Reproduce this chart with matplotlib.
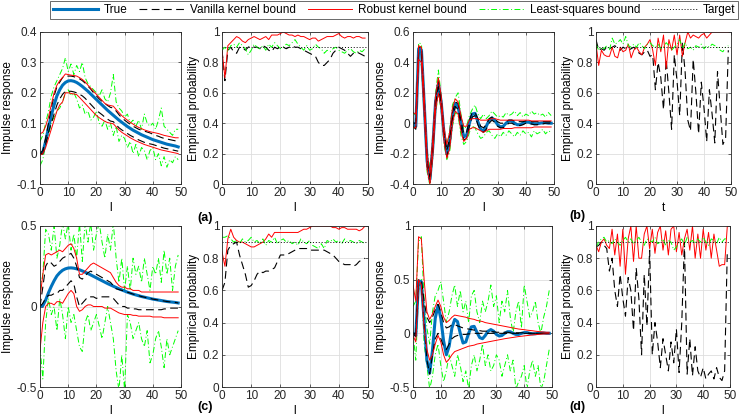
import matplotlib
matplotlib.use('Agg')
import matplotlib.pyplot as plt
from matplotlib.lines import Line2D
from matplotlib.ticker import FormatStrFormatter

plt.rcParams['font.family'] = ['Liberation Sans', 'DejaVu Sans']
plt.rcParams['font.size'] = 8

# lags 0..49
lags = list(range(50))

# ---- true impulse responses ----
true_peak = [0, 0.005, 0.04, 0.085, 0.125, 0.16, 0.19, 0.21, 0.225, 0.234, 0.239, 0.24, 0.238, 0.234, 0.228, 0.221, 0.213,
             0.205, 0.196, 0.187, 0.178, 0.169, 0.16, 0.151, 0.142, 0.134, 0.126, 0.118, 0.11, 0.103, 0.096, 0.089, 0.083,
             0.077, 0.072, 0.067, 0.062, 0.058, 0.054, 0.05, 0.046, 0.043, 0.04, 0.037, 0.034, 0.031, 0.029, 0.027, 0.025, 0.022]
true_osc = [0.0, -0.02, 0.49, 0.48, 0.12, -0.25, -0.37, -0.16, 0.14, 0.26, 0.14, -0.07, -0.2, -0.12, 0.05, 0.13, 0.11, 0.0,
            -0.09, -0.08, 0.0, 0.06, 0.065, 0.01, -0.04, -0.05, -0.02, 0.02, 0.035, 0.02, -0.01, -0.025, -0.02, 0.0, 0.015,
            0.015, 0.0, -0.01, -0.01, 0.0, 0.007, 0.007, 0.0, -0.004, -0.004, 0.0, 0.003, 0.003, 0.0, 0.0]

# ---- (a) bounds ----
van_up_a = [0.0, 0.01, 0.05, 0.1, 0.15, 0.19, 0.22, 0.235, 0.25, 0.255, 0.255, 0.255, 0.253, 0.25, 0.246, 0.24, 0.232, 0.222,
            0.212, 0.2, 0.19, 0.18, 0.172, 0.165, 0.158, 0.152, 0.15, 0.14, 0.128, 0.118, 0.11, 0.103, 0.096, 0.09, 0.085,
            0.08, 0.077, 0.074, 0.071, 0.068, 0.064, 0.06, 0.057, 0.053, 0.05, 0.048, 0.046, 0.044, 0.042, 0.04]
van_lo_a = [0.0, 0.0, 0.03, 0.07, 0.1, 0.13, 0.16, 0.18, 0.195, 0.205, 0.205, 0.205, 0.203, 0.2, 0.195, 0.19, 0.182, 0.172,
            0.162, 0.152, 0.142, 0.135, 0.128, 0.12, 0.113, 0.107, 0.105, 0.095, 0.085, 0.078, 0.072, 0.066, 0.06, 0.055,
            0.05, 0.045, 0.041, 0.037, 0.034, 0.032, 0.03, 0.027, 0.024, 0.021, 0.018, 0.016, 0.014, 0.012, 0.01, 0.008]
rob_up_a = [0.065, 0.07, 0.09, 0.12, 0.16, 0.2, 0.225, 0.24, 0.25, 0.262, 0.26, 0.258, 0.257, 0.255, 0.25, 0.244, 0.236,
            0.225, 0.215, 0.205, 0.195, 0.185, 0.175, 0.165, 0.16, 0.158, 0.156, 0.145, 0.135, 0.125, 0.117, 0.11, 0.103,
            0.097, 0.091, 0.086, 0.082, 0.078, 0.075, 0.072, 0.07, 0.068, 0.066, 0.063, 0.06, 0.058, 0.056, 0.054, 0.052, 0.052]
rob_lo_a = [-0.005, 0.0, 0.02, 0.05, 0.08, 0.11, 0.14, 0.16, 0.17, 0.2, 0.2, 0.198, 0.196, 0.194, 0.185, 0.175, 0.165, 0.155,
            0.145, 0.135, 0.125, 0.118, 0.112, 0.106, 0.102, 0.1, 0.098, 0.088, 0.078, 0.07, 0.064, 0.058, 0.052, 0.047,
            0.042, 0.038, 0.034, 0.03, 0.027, 0.024, 0.021, 0.018, 0.015, 0.012, 0.01, 0.008, 0.006, 0.004, 0.002, 0.0]
ls_up_a = [0.04, 0.06, 0.1, 0.14, 0.19, 0.22, 0.24, 0.26, 0.28, 0.315, 0.27, 0.295, 0.26, 0.29, 0.27, 0.3, 0.25, 0.23, 0.22,
           0.21, 0.2, 0.19, 0.21, 0.18, 0.17, 0.2, 0.26, 0.17, 0.15, 0.14, 0.12, 0.13, 0.1, 0.11, 0.09, 0.11, 0.08, 0.13,
           0.1, 0.09, 0.1, 0.08, 0.11, 0.15, 0.09, 0.08, 0.07, 0.06, 0.08, 0.08]
ls_lo_a = [-0.04, -0.02, 0.03, 0.06, 0.1, 0.12, 0.14, 0.15, 0.17, 0.2, 0.21, 0.19, 0.2, 0.18, 0.15, 0.16, 0.13, 0.14, 0.11,
           0.12, 0.14, 0.1, 0.09, 0.11, 0.08, 0.1, 0.06, 0.09, 0.04, 0.06, 0.05, 0.02, 0.04, 0.0, 0.03, -0.01, 0.02, 0.01,
           -0.02, 0.01, 0.02, -0.02, 0.0, -0.04, -0.01, -0.045, -0.02, -0.03, -0.01, -0.02]
rob_prob_a = [0.88, 0.7, 0.91, 0.93, 0.95, 0.97, 0.96, 0.94, 0.93, 0.95, 0.96, 0.97, 0.96, 0.95, 0.96, 0.97, 0.95, 0.98, 0.98,
              0.98, 0.99, 1.0, 0.99, 0.98, 0.98, 0.97, 0.98, 0.97, 0.97, 0.96, 0.95, 0.96, 0.96, 0.94, 0.95, 0.96, 0.97,
              0.97, 0.97, 0.98, 0.99, 0.97, 0.96, 0.97, 0.97, 0.96, 0.97, 0.97, 0.96, 0.96]
van_prob_a = [0.88, 0.68, 0.88, 0.9, 0.87, 0.86, 0.9, 0.9, 0.88, 0.9, 0.91, 0.9, 0.9, 0.89, 0.91, 0.9, 0.88, 0.87, 0.9, 0.89,
              0.9, 0.9, 0.89, 0.9, 0.91, 0.9, 0.9, 0.89, 0.88, 0.87, 0.86, 0.85, 0.84, 0.8, 0.78, 0.78, 0.8, 0.82, 0.86,
              0.88, 0.9, 0.89, 0.88, 0.86, 0.84, 0.86, 0.87, 0.86, 0.85, 0.84]
ls_prob_a = [0.88, 0.9, 0.87, 0.91, 0.92, 0.9, 0.93, 0.91, 0.89, 0.85, 0.88, 0.92, 0.9, 0.89, 0.91, 0.88, 0.92, 0.9, 0.93,
             0.91, 0.89, 0.9, 0.92, 0.91, 0.93, 0.95, 0.92, 0.9, 0.88, 0.91, 0.88, 0.89, 0.92, 0.9, 0.89, 0.86, 0.88, 0.87,
             0.89, 0.9, 0.88, 0.87, 0.86, 0.88, 0.89, 0.87, 0.86, 0.88, 0.87, 0.89]

# ---- (b) bounds ----
van_up_b = [0.0, 0.0, 0.5, 0.5, 0.15, -0.22, -0.35, -0.13, 0.16, 0.28, 0.16, -0.05, -0.18, -0.1, 0.07, 0.14, 0.13, 0.02,
            -0.07, -0.06, 0.02, 0.07, 0.07, 0.03, -0.02, -0.03, -0.01, 0.03, 0.04, 0.03, 0.01, 0.0, 0.0, 0.01, 0.02, 0.02,
            0.015, 0.01, 0.01, 0.01, 0.015, 0.015, 0.01, 0.01, 0.01, 0.01, 0.01, 0.01, 0.01, 0.01]
van_lo_b = [-0.02, -0.04, 0.47, 0.46, 0.1, -0.28, -0.39, -0.19, 0.12, 0.24, 0.12, -0.09, -0.22, -0.14, 0.03, 0.11, 0.09,
            -0.02, -0.11, -0.1, -0.02, 0.04, 0.05, -0.01, -0.05, -0.06, -0.04, 0.0, 0.02, 0.005, -0.02, -0.03, -0.03,
            -0.015, 0.0, 0.0, -0.01, -0.015, -0.015, -0.01, 0.0, 0.0, -0.005, -0.01, -0.01, -0.005, -0.005, 0.0, 0.0, 0.0]
rob_up_b = [0.07, 0.06, 0.51, 0.5, 0.18, -0.2, -0.33, -0.1, 0.18, 0.3, 0.18, -0.03, -0.14, -0.06, 0.1, 0.16, 0.14, 0.05,
            -0.02, -0.02, 0.02, 0.03, 0.03, 0.03, 0.02, 0.02, 0.02, 0.025, 0.03, 0.03, 0.025, 0.02, 0.02, 0.02, 0.02, 0.02,
            0.02, 0.02, 0.02, 0.02, 0.02, 0.02, 0.015, 0.015, 0.015, 0.015, 0.015, 0.015, 0.015, 0.015]
rob_lo_b = [-0.03, -0.03, 0.42, 0.4, 0.05, -0.3, -0.4, -0.22, 0.08, 0.2, 0.1, -0.12, -0.23, -0.17, 0.0, 0.08, 0.06, -0.05,
            -0.12, -0.1, -0.04, -0.03, -0.03, -0.04, -0.05, -0.06, -0.05, -0.04, -0.04, -0.04, -0.04, -0.04, -0.035,
            -0.035, -0.035, -0.035, -0.03, -0.03, -0.03, -0.03, -0.03, -0.03, -0.03, -0.025, -0.025, -0.025, -0.025,
            -0.025, -0.025, -0.025]
ls_up_b = [0.07, 0.05, 0.53, 0.52, 0.2, -0.18, -0.3, -0.08, 0.2, 0.35, 0.18, -0.03, -0.15, -0.05, 0.12, 0.17, 0.2, 0.06,
           -0.04, -0.02, 0.05, 0.09, 0.12, 0.06, 0.03, 0.06, 0.03, 0.05, 0.08, 0.06, 0.04, 0.05, 0.04, 0.07, 0.05, 0.06,
           0.08, 0.05, 0.07, 0.04, 0.06, 0.05, 0.08, 0.06, 0.07, 0.05, 0.06, 0.04, 0.07, 0.05]
ls_lo_b = [-0.03, -0.02, 0.4, 0.38, 0.03, -0.32, -0.41, -0.24, 0.06, 0.2, 0.08, -0.14, -0.24, -0.19, -0.02, 0.07, 0.05,
           -0.08, -0.14, -0.12, -0.06, -0.02, -0.03, -0.07, -0.1, -0.09, -0.06, -0.05, -0.08, -0.1, -0.07, -0.09, -0.06,
           -0.08, -0.05, -0.07, -0.09, -0.06, -0.08, -0.05, -0.07, -0.06, -0.09, -0.05, -0.07, -0.06, -0.04, -0.07,
           -0.05, -0.06]
rob_prob_b = [0.92, 0.78, 0.88, 0.85, 0.84, 0.84, 0.9, 0.84, 0.83, 0.9, 0.87, 0.88, 0.92, 0.83, 0.88, 0.9, 0.87, 0.85, 0.9,
              0.92, 0.95, 0.88, 0.78, 0.96, 0.87, 0.98, 0.76, 0.95, 0.88, 0.98, 0.85, 0.98, 0.84, 0.93, 1.0, 0.96, 0.98,
              0.97, 0.96, 0.98, 0.99, 0.96, 0.98, 1.0, 1.0, 1.0, 1.0, 1.0, 1.0, 1.0]
van_prob_b = [0.95, 0.88, 0.89, 0.88, 0.9, 0.89, 0.9, 0.91, 0.89, 0.88, 0.9, 0.89, 0.88, 0.89, 0.9, 0.88, 0.86, 0.85, 0.87,
              0.88, 0.84, 0.85, 0.62, 0.8, 0.7, 0.49, 0.82, 0.6, 0.36, 0.85, 0.68, 0.45, 0.93, 0.74, 0.42, 0.35, 0.82,
              0.6, 0.33, 0.67, 0.5, 0.28, 0.62, 0.46, 0.27, 0.74, 0.5, 0.26, 0.3, 0.88]
ls_prob_b = [0.92, 0.88, 0.9, 0.89, 0.91, 0.88, 0.96, 0.92, 0.93, 0.95, 0.92, 0.97, 0.91, 0.9, 0.92, 0.9, 0.93, 0.91, 0.89,
             0.92, 0.93, 0.91, 0.9, 0.92, 0.89, 0.9, 0.93, 0.91, 0.88, 0.9, 0.92, 0.95, 0.89, 0.93, 0.89, 0.9, 0.88, 0.91,
             0.9, 0.92, 0.89, 0.91, 0.9, 0.92, 0.91, 0.9, 0.88, 0.87, 0.9, 0.91]

# ---- (c) bounds ----
van_up_c = [0.0, 0.12, 0.25, 0.28, 0.27, 0.25, 0.26, 0.28, 0.3, 0.31, 0.32, 0.33, 0.3, 0.25, 0.18, 0.17, 0.19, 0.21, 0.22,
            0.21, 0.2, 0.19, 0.18, 0.17, 0.16, 0.15, 0.13, 0.11, 0.105, 0.1, 0.096, 0.089, 0.083, 0.077, 0.072, 0.067,
            0.062, 0.058, 0.054, 0.05, 0.046, 0.043, 0.04, 0.037, 0.034, 0.031, 0.029, 0.027, 0.025, 0.022]
van_lo_c = [0.0, 0.02, 0.05, 0.07, 0.07, 0.08, 0.08, 0.1, 0.1, 0.12, 0.14, 0.16, 0.14, 0.06, 0.0, 0.02, 0.04, 0.06, 0.06,
            0.06, 0.05, 0.06, 0.06, 0.06, 0.06, 0.06, 0.05, 0.03, 0.01, 0.0, 0.0, -0.01, -0.01, -0.015, -0.015, -0.02,
            -0.02, -0.02, -0.02, -0.02, -0.02, -0.02, -0.02, -0.02, -0.015, -0.015, -0.01, -0.01, -0.01, -0.01]
rob_up_c = [0.05, 0.2, 0.32, 0.33, 0.32, 0.33, 0.34, 0.35, 0.34, 0.36, 0.38, 0.39, 0.36, 0.3, 0.2, 0.2, 0.22, 0.24, 0.26,
            0.27, 0.26, 0.25, 0.24, 0.23, 0.22, 0.21, 0.18, 0.15, 0.13, 0.12, 0.12, 0.11, 0.11, 0.1, 0.1, 0.1, 0.09, 0.09,
            0.09, 0.09, 0.09, 0.09, 0.09, 0.09, 0.09, 0.09, 0.09, 0.09, 0.09, 0.09]
rob_lo_c = [-0.27, -0.1, 0.0, 0.02, 0.02, 0.01, 0.03, 0.03, 0.02, 0.05, 0.08, 0.1, 0.08, 0.0, -0.03, -0.02, 0.0, 0.01, 0.01,
            0.0, 0.0, 0.0, 0.0, -0.01, -0.01, -0.01, -0.02, -0.03, -0.04, -0.045, -0.05, -0.05, -0.05, -0.055, -0.055,
            -0.06, -0.06, -0.06, -0.06, -0.06, -0.065, -0.065, -0.065, -0.065, -0.07, -0.07, -0.07, -0.07, -0.07, -0.07]
ls_up_c = [0.1, 0.2, 0.48, 0.45, 0.35, 0.5, 0.3, 0.38, 0.52, 0.42, 0.52, 0.35, 0.45, 0.3, 0.52, 0.28, 0.52, 0.4, 0.52, 0.35,
           0.45, 0.52, 0.4, 0.3, 0.45, 0.35, 0.52, 0.3, 0.15, 0.3, 0.1, 0.25, 0.1, 0.3, 0.2, 0.25, 0.15, 0.3, 0.2, 0.1,
           0.25, 0.2, 0.3, 0.15, 0.35, 0.2, 0.3, 0.1, 0.25, 0.32]
ls_lo_c = [-0.25, -0.45, -0.1, 0.05, -0.05, 0.0, -0.15, 0.05, -0.05, -0.2, 0.0, -0.1, -0.05, -0.15, -0.25, -0.28, -0.1,
           -0.05, -0.15, -0.1, -0.05, -0.12, -0.2, -0.1, 0.0, -0.1, -0.2, -0.4, -0.52, -0.3, -0.52, -0.05, -0.1, -0.2,
           -0.15, -0.1, -0.2, -0.25, -0.15, -0.35, -0.3, -0.2, -0.15, -0.25, -0.38, -0.2, -0.3, -0.25, -0.2, -0.15]
rob_prob_c = [0.84, 0.75, 0.92, 0.98, 0.93, 0.91, 0.9, 0.9, 0.89, 0.88, 0.87, 0.87, 0.88, 0.89, 0.9, 0.92, 0.95, 0.93, 0.96,
              0.96, 0.96, 0.96, 0.96, 0.96, 0.96, 0.96, 0.96, 0.97, 0.98, 0.98, 0.99, 1.0, 1.0, 1.0, 1.0, 1.0, 1.0, 1.0,
              0.99, 0.99, 0.98, 0.99, 0.99, 0.98, 0.98, 0.98, 0.98, 0.97, 0.98, 1.0]
van_prob_c = [0.6, 0.65, 0.85, 0.88, 0.89, 0.9, 0.82, 0.76, 0.7, 0.62, 0.63, 0.66, 0.7, 0.72, 0.71, 0.72, 0.72, 0.73, 0.74,
              0.78, 0.82, 0.82, 0.82, 0.83, 0.84, 0.85, 0.86, 0.86, 0.86, 0.86, 0.85, 0.85, 0.85, 0.85, 0.85, 0.85, 0.84,
              0.83, 0.82, 0.8, 0.78, 0.77, 0.76, 0.76, 0.76, 0.75, 0.76, 0.78, 0.79, 0.8]
ls_prob_c = [0.93, 0.93, 0.94, 0.92, 0.9, 0.91, 0.89, 0.92, 0.9, 0.91, 0.93, 0.9, 0.91, 0.89, 0.92, 0.88, 0.91, 0.9, 0.93,
             0.89, 0.91, 0.92, 0.9, 0.91, 0.89, 0.9, 0.88, 0.92, 0.9, 0.89, 0.91, 0.88, 0.87, 0.86, 0.89, 0.86, 0.91, 0.9,
             0.92, 0.9, 0.91, 0.89, 0.92, 0.9, 0.91, 0.9, 0.89, 0.91, 0.9, 0.89]

# ---- (d) bounds ----
van_up_d = [0.0, 0.0, 0.5, 0.5, 0.3, 0.15, 0.1, 0.15, 0.22, 0.27, 0.2, 0.1, 0.05, 0.06, 0.08, 0.08, 0.07, 0.06, 0.05, 0.045,
            0.04, 0.035, 0.03, 0.03, 0.025, 0.02, 0.02, 0.02, 0.015, 0.015, 0.01, 0.01, 0.01, 0.01, 0.01, 0.005, 0.005,
            0.005, 0.005, 0.005, 0.005, 0.005, 0.0, 0.0, 0.0, 0.0, 0.0, 0.0, 0.0, 0.0]
van_lo_d = [0.0, -0.03, 0.45, 0.45, 0.1, -0.25, -0.38, -0.2, -0.05, 0.0, -0.05, -0.12, -0.15, -0.1, -0.05, -0.03, -0.02,
            -0.015, -0.01, -0.01, -0.005, -0.005, 0.0, 0.0, 0.0, 0.0, 0.0, 0.0, 0.0, 0.0, 0.0, 0.0, 0.0, 0.0, 0.0, 0.0,
            0.0, 0.0, 0.0, 0.0, 0.0, 0.0, 0.0, 0.0, 0.0, 0.0, 0.0, 0.0, 0.0, 0.0]
rob_up_d = [0.45, 0.3, 0.9, 0.88, 0.5, 0.2, 0.13, 0.18, 0.25, 0.31, 0.25, 0.15, 0.1, 0.12, 0.15, 0.17, 0.165, 0.16, 0.155,
            0.15, 0.14, 0.135, 0.13, 0.12, 0.115, 0.11, 0.1, 0.095, 0.09, 0.085, 0.08, 0.075, 0.07, 0.065, 0.06, 0.055,
            0.05, 0.045, 0.04, 0.037, 0.034, 0.03, 0.027, 0.024, 0.02, 0.017, 0.014, 0.012, 0.01, 0.01]
rob_lo_d = [-0.02, -0.08, 0.5, 0.45, 0.05, -0.15, -0.25, -0.2, -0.1, -0.02, -0.08, -0.2, -0.27, -0.24, -0.2, -0.17, -0.16,
            -0.15, -0.14, -0.13, -0.12, -0.115, -0.11, -0.1, -0.095, -0.09, -0.085, -0.08, -0.075, -0.07, -0.065, -0.06,
            -0.055, -0.05, -0.046, -0.042, -0.038, -0.034, -0.03, -0.027, -0.024, -0.021, -0.018, -0.015, -0.012, -0.01,
            -0.008, -0.006, -0.005, -0.005]
ls_up_d = [0.25, 0.3, 0.85, 0.9, 0.3, 0.05, -0.1, 0.2, 0.35, 0.4, 0.48, 0.3, 0.1, 0.2, 0.35, 0.45, 0.25, 0.4, 0.2, 0.3,
           0.1, 0.35, 0.4, 0.2, 0.1, 0.3, 0.2, 0.3, 0.45, 0.25, 0.35, 0.1, 0.3, 0.2, 0.4, 0.15, 0.0, 0.2, 0.3, 0.05, 0.45,
           0.3, 0.15, 0.2, 0.3, 0.1, 0.0, 0.15, 0.25, 0.4]
ls_lo_d = [0.0, -0.25, 0.4, 0.5, -0.1, -0.3, -0.52, -0.4, -0.2, -0.1, -0.3, -0.45, -0.35, -0.2, -0.3, -0.4, -0.2, -0.3,
           -0.45, -0.35, -0.52, -0.3, -0.2, -0.35, -0.25, -0.1, -0.3, -0.2, -0.35, -0.3, -0.2, -0.25, -0.4, -0.3, -0.2,
           -0.35, -0.25, -0.52, -0.45, -0.4, -0.3, -0.52, -0.35, -0.25, -0.4, -0.3, -0.52, -0.45, -0.3, -0.15]
rob_prob_d = [0.88, 0.84, 0.9, 0.92, 0.88, 0.86, 0.98, 0.82, 0.95, 0.75, 0.98, 0.7, 0.92, 1.0, 0.78, 1.0, 0.8, 0.8, 0.95,
              1.0, 0.86, 0.98, 0.83, 0.96, 1.0, 0.85, 0.97, 0.82, 0.98, 1.0, 0.84, 0.96, 0.82, 0.92, 0.98, 0.85, 1.0, 0.8,
              0.95, 0.8, 0.98, 0.85, 0.96, 0.8, 0.95, 0.85, 0.75, 0.76, 0.76, 1.0]
van_prob_d = [0.87, 0.88, 0.9, 0.88, 0.86, 0.72, 0.8, 0.6, 0.5, 0.7, 0.55, 0.44, 0.68, 0.6, 0.35, 0.74, 0.55, 0.2, 0.7,
              0.38, 0.85, 0.2, 0.4, 0.28, 0.12, 0.3, 0.2, 0.1, 0.28, 0.15, 0.36, 0.09, 0.4, 0.9, 0.08, 0.3, 0.07, 0.25, 0.1,
              0.06, 0.12, 0.05, 0.08, 0.1, 0.05, 0.12, 0.06, 0.04, 0.1, 0.85]
ls_prob_d = [0.87, 0.9, 0.92, 0.93, 0.9, 0.91, 0.89, 0.92, 0.9, 0.88, 0.91, 0.93, 0.9, 0.92, 0.89, 0.91, 0.93, 0.9, 0.88,
             0.92, 0.91, 0.9, 0.93, 0.89, 0.9, 0.92, 0.88, 0.91, 0.9, 0.85, 0.87, 0.9, 0.92, 0.88, 0.93, 0.9, 0.91, 0.89,
             0.92, 0.9, 0.93, 0.9, 0.88, 0.92, 0.91, 0.89, 0.93, 0.9, 0.92, 0.92]

target_level = 0.9

# colours / styles (MATLAB defaults)
true_color = '#0072BD'
axis_color = '#262626'
van_style = dict(color='black', linestyle=(0, (7, 4)), linewidth=0.8)
rob_style = dict(color='red', linestyle='-', linewidth=0.7)
ls_style = dict(color='#00FF00', linestyle=(0, (6, 2.5, 1, 2.5)), linewidth=0.7)
tgt_style = dict(color='black', linestyle=(0, (1, 2)), linewidth=0.7)

W, H = 747, 418


def px_axes(fig, left, right, top, bottom):
    return fig.add_axes([left / W, 1 - bottom / H, (right - left) / W, (bottom - top) / H])


def style_axes(ax, ylim, yticks, xlabel, ylabel):
    ax.set_xlim(0, 50)
    ax.set_ylim(*ylim)
    ax.set_xticks([0, 10, 20, 30, 40, 50])
    ax.set_yticks(yticks)
    ax.yaxis.set_major_formatter(FormatStrFormatter('%g'))
    ax.grid(True, color='#dedede', linewidth=0.6)
    ax.set_axisbelow(True)
    ax.tick_params(direction='in', length=2.5, width=0.5, top=True, right=True,
                   colors=axis_color, labelsize=8.5, pad=2)
    for s in ax.spines.values():
        s.set_color(axis_color)
        s.set_linewidth(0.6)
    ax.set_xlabel(xlabel, fontsize=8.5, labelpad=2)
    ax.set_ylabel(ylabel, fontsize=8.5, labelpad=2)


def impulse_panel(ax, true_ir, van_up, van_lo, rob_up, rob_lo, ls_up, ls_lo, ylim, yticks):
    ax.plot(lags, ls_up, **ls_style)
    ax.plot(lags, ls_lo, **ls_style)
    ax.plot(lags, true_ir, color=true_color, linewidth=2.2)
    ax.plot(lags, van_up, **van_style)
    ax.plot(lags, van_lo, **van_style)
    ax.plot(lags, rob_up, **rob_style)
    ax.plot(lags, rob_lo, **rob_style)
    style_axes(ax, ylim, yticks, 'l', 'Impulse response')


def prob_panel(ax, van_p, ls_p, rob_p, xlabel):
    ax.plot(lags, van_p, **van_style)
    ax.plot(lags, rob_p, **rob_style)
    ax.plot(lags, ls_p, **ls_style)
    ax.axhline(target_level, **tgt_style)
    style_axes(ax, (0, 1), [0, 0.2, 0.4, 0.6, 0.8, 1], xlabel, 'Empirical probability')


# (1): Figure instance:
fig = plt.figure(figsize=(W / 100, H / 100), dpi=100)

# (2): Panels, top row
ax1 = px_axes(fig, 40, 181, 32, 184)
impulse_panel(ax1, true_peak, van_up_a, van_lo_a, rob_up_a, rob_lo_a, ls_up_a, ls_lo_a,
              (-0.1, 0.4), [-0.1, 0, 0.1, 0.2, 0.3, 0.4])
ax2 = px_axes(fig, 222, 368, 32, 184)
prob_panel(ax2, van_prob_a, ls_prob_a, rob_prob_a, 'l')
ax3 = px_axes(fig, 413, 554, 32, 184)
impulse_panel(ax3, true_osc, van_up_b, van_lo_b, rob_up_b, rob_lo_b, ls_up_b, ls_lo_b,
              (-0.4, 0.6), [-0.4, -0.2, 0, 0.2, 0.4, 0.6])
ax4 = px_axes(fig, 596, 731, 32, 184)
prob_panel(ax4, van_prob_b, ls_prob_b, rob_prob_b, 't')

# (3): Panels, bottom row
ax5 = px_axes(fig, 40, 181, 226, 387)
impulse_panel(ax5, true_peak, van_up_c, van_lo_c, rob_up_c, rob_lo_c, ls_up_c, ls_lo_c,
              (-0.5, 0.5), [-0.5, 0, 0.5])
ax6 = px_axes(fig, 222, 368, 226, 387)
prob_panel(ax6, van_prob_c, ls_prob_c, rob_prob_c, 'l')
ax7 = px_axes(fig, 413, 552, 226, 387)
impulse_panel(ax7, true_osc, van_up_d, van_lo_d, rob_up_d, rob_lo_d, ls_up_d, ls_lo_d,
              (-0.5, 1), [-0.5, 0, 0.5, 1])
ax8 = px_axes(fig, 596, 730, 226, 387)
prob_panel(ax8, van_prob_d, ls_prob_d, rob_prob_d, 'l')

# (4): Panel tags
for tag, xp, yp in [('(a)', 205, 218), ('(b)', 577, 216), ('(c)', 205, 407), ('(d)', 577, 407)]:
    fig.text(xp / W, 1 - yp / H, tag, ha='center', va='center', fontsize=9, fontweight='bold')

# (5): Shared legend
handles = [
    Line2D([], [], color=true_color, linewidth=2.2),
    Line2D([], [], **van_style),
    Line2D([], [], **rob_style),
    Line2D([], [], **ls_style),
    Line2D([], [], **tgt_style),
]
labels = ['True', 'Vanilla kernel bound', 'Robust kernel bound', 'Least-squares bound', 'Target']
leg = fig.legend(handles, labels, loc='upper center', bbox_to_anchor=(394 / W, 1.0), ncol=5,
                 fontsize=8.5, frameon=True, fancybox=False, handlelength=3.8, handletextpad=0.5,
                 columnspacing=1.0, borderpad=0.25, borderaxespad=0.1)
leg.get_frame().set_edgecolor(axis_color)
leg.get_frame().set_linewidth(0.6)

plt.savefig('out.png', dpi=100)
